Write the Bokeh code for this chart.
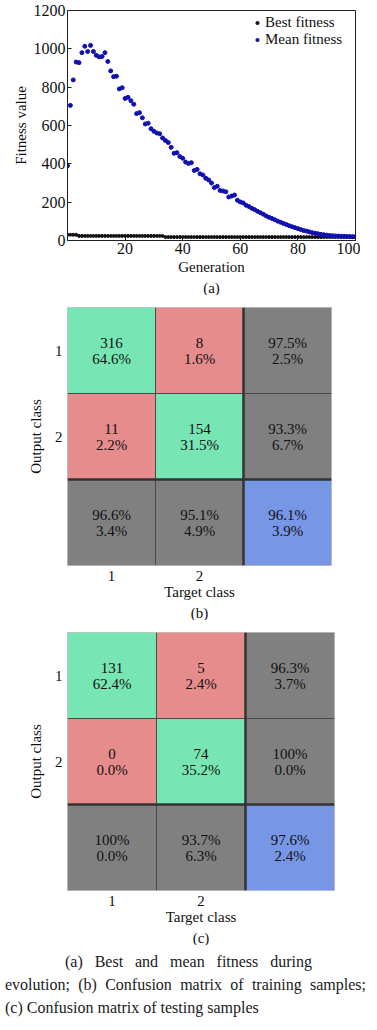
from bokeh.plotting import figure
from bokeh.models import Range1d, FixedTicker, Title, Div
from bokeh.layouts import column
from bokeh.embed import file_html
from bokeh.resources import INLINE
from bokeh.core.properties import value

FONT = "Liberation Serif"

# ---------------- data: (a) fitness ----------------
generation = list(range(101))
best_fitness = [30, 30, 30, 30,
                24, 24, 24, 24, 24, 24, 24, 24, 24, 24,
                24, 24, 24, 24, 24, 24, 24, 24, 24, 24,
                24, 24, 24, 24, 24, 24, 24, 24, 24, 24,
                18, 18, 18, 18, 18, 18, 18, 18, 18, 18,
                18, 18, 18, 18, 18, 18, 18, 18, 18, 18,
                18, 18, 18, 18, 18, 18, 18, 18, 18, 18,
                18, 18, 18, 18, 18, 18, 18, 18, 18, 18,
                18, 18, 18, 18, 18, 18, 18, 18, 18, 18,
                18, 18, 18, 18, 18, 18, 18, 18, 18, 18,
                18, 18, 18, 18, 18, 18, 18]
mean_fitness = [390, 705, 838, 931, 928, 980, 1013, 986, 1018, 986,
                966, 958, 960, 980, 934, 885, 855, 857, 791, 797,
                741, 747, 729, 711, 662, 667, 640, 608, 612, 583,
                570, 561, 557, 535, 522, 511, 486, 455, 458, 438,
                429, 409, 402, 406, 365, 371, 348, 342, 325, 316,
                300, 276, 283, 261, 258, 254, 227, 232, 237, 210,
                201, 196, 184, 177, 168, 161, 152, 145, 137, 128,
                121, 115, 108, 101, 95, 89, 83, 77, 72, 67,
                62, 57, 52, 49, 45, 41, 38, 35, 32, 30,
                28, 26, 25, 24, 23, 22, 22, 21, 21, 20, 20]
x_ticks = [20, 40, 60, 80, 100]
y_ticks = [0, 200, 400, 600, 800, 1000, 1200]

# ---------------- data: (b) training confusion ----------------
train_counts = [[316, 8], [11, 154]]
train_pcts = [["64.6%", "1.6%"], ["2.2%", "31.5%"]]
train_row_acc = [["97.5%", "2.5%"], ["93.3%", "6.7%"]]
train_col_acc = [["96.6%", "3.4%"], ["95.1%", "4.9%"]]
train_total = ["96.1%", "3.9%"]

# ---------------- data: (c) testing confusion ----------------
test_counts = [[131, 5], [0, 74]]
test_pcts = [["62.4%", "2.4%"], ["0.0%", "35.2%"]]
test_row_acc = [["96.3%", "3.7%"], ["100%", "0.0%"]]
test_col_acc = [["100%", "0.0%"], ["93.7%", "6.3%"]]
test_total = ["97.6%", "2.4%"]

class_ticks = [1, 2]

caption_lines = [
    "(a) Best and mean fitness during",
    "evolution; (b) Confusion matrix of training samples;",
    "(c) Confusion matrix of testing samples",
]

GREEN = "#78e6b4"
RED = "#e68c8c"
GRAY = "#808080"
BLUE = "#7896e6"


def style_axes(p, tick_size="15px"):
    for ax in p.axis:
        ax.major_label_text_font = FONT
        ax.major_label_text_font_size = tick_size
        ax.major_label_text_color = "#111111"
        ax.axis_label_text_font = FONT
        ax.axis_label_text_font_size = "15px"
        ax.axis_label_text_font_style = "normal"
        ax.axis_label_text_color = "#111111"
        ax.minor_tick_line_color = None


def below_title(p, tag):
    p.add_layout(Title(text=tag, align="center", text_font=FONT, text_font_size="15px",
                       text_font_style="normal", text_color="#111111", standoff=0,
                       offset=0), "below")


# ---------------- figure (a) ----------------
pa = figure(frame_width=288, frame_height=230, output_backend="svg", toolbar_location=None,
            x_range=Range1d(0, 100), y_range=Range1d(0, 1200),
            min_border_left=54, min_border_right=14, min_border_top=10,
            min_border_bottom=10)
pa.grid.visible = False
pa.outline_line_color = "#222222"
pa.scatter(generation, best_fitness, size=3, color="#111111", legend_label="Best fitness")
pa.scatter(generation, mean_fitness, size=4, color="#1010b0", legend_label="Mean fitness")
pa.xaxis.ticker = FixedTicker(ticks=x_ticks)
pa.yaxis.ticker = FixedTicker(ticks=y_ticks)
pa.xaxis.axis_label = "Generation"
pa.yaxis.axis_label = "Fitness value"
style_axes(pa, tick_size="16px")
for ax in pa.axis:
    ax.major_tick_in = 4
    ax.major_tick_out = 0
    ax.major_label_standoff = 2
    ax.axis_label_standoff = 2
    ax.axis_line_color = "#222222"
    ax.major_tick_line_color = "#222222"
below_title(pa, "(a)")
lg = pa.legend[0]
lg.location = "top_right"
lg.margin = 4
lg.padding = 3
lg.spacing = -3
lg.glyph_width = 8
lg.glyph_height = 15
lg.label_standoff = 4
lg.label_height = 15
lg.label_width = 86
lg.label_text_font = FONT
lg.label_text_font_size = "15px"
lg.label_text_color = "#111111"
lg.border_line_color = None
lg.background_fill_alpha = 0


# ---------------- confusion matrices ----------------
def matrix_fig(counts, pcts, row_acc, col_acc, total, tag, left, right, top, fw, fh):
    n = len(counts)
    xs, ys, colors, l1, l2 = [], [], [], [], []
    for r in range(n + 1):
        for c in range(n + 1):
            if r < n and c < n:
                col = GREEN if r == c else RED
                a, b = str(counts[r][c]), pcts[r][c]
            elif r < n:
                col, (a, b) = GRAY, row_acc[r]
            elif c < n:
                col, (a, b) = GRAY, col_acc[c]
            else:
                col, (a, b) = BLUE, total
            xs.append(c + 1)
            ys.append(r + 1)
            colors.append(col)
            l1.append(a)
            l2.append(b)
    p = figure(frame_width=fw, frame_height=fh, output_backend="svg", toolbar_location=None,
               x_range=Range1d(0.5, n + 1.5), y_range=Range1d(n + 1.5, 0.5),
               min_border_left=left, min_border_right=right, min_border_top=top,
               min_border_bottom=4)
    p.grid.visible = False
    p.outline_line_color = "#c4c4c4"
    p.rect(xs, ys, width=1, height=1, fill_color=colors, line_color=None)
    for k in range(1, n + 1):
        b = k + 0.5
        lw = 2.5 if k == n else 1
        lc = "#333333" if k == n else "#4a4a4a"
        p.segment(x0=[b], y0=[0.5], x1=[b], y1=[n + 1.5], line_color=lc, line_width=lw)
        p.segment(x0=[0.5], y0=[b], x1=[n + 1.5], y1=[b], line_color=lc, line_width=lw)
    common = dict(text_align="center", text_baseline="middle", text_font=value(FONT),
                  text_font_size="15px", text_color="#111111")
    p.text(xs, ys, text=l1, y_offset=-8, **common)
    p.text(xs, ys, text=l2, y_offset=8, **common)
    p.xaxis.ticker = FixedTicker(ticks=class_ticks)
    p.yaxis.ticker = FixedTicker(ticks=class_ticks)
    p.xaxis.axis_label = "Target class"
    p.yaxis.axis_label = "Output class"
    style_axes(p)
    for ax in p.axis:
        ax.major_tick_in = 0
        ax.major_tick_out = 0
        ax.axis_line_color = None
        ax.major_label_standoff = 5
        ax.axis_label_standoff = 0
    p.yaxis.major_label_standoff = 5
    p.yaxis.axis_label_standoff = 8
    below_title(p, tag)
    return p


pb = matrix_fig(train_counts, train_pcts, train_row_acc, train_col_acc, train_total, "(b)",
                left=65, right=32, top=12, fw=264, fh=258)
pc = matrix_fig(test_counts, test_pcts, test_row_acc, test_col_acc, test_total, "(c)",
                left=67, right=27, top=12, fw=267, fh=258)


# ---------------- caption ----------------
def spread(line, extra):
    words = "".join("<span>%s</span>" % w for w in line.split(" "))
    return '<div style="display:flex;justify-content:space-between;%s">%s</div>' % (extra, words)


cap_html = (
    '<div style="font-family:\'Liberation Serif\',serif;font-size:16px;line-height:23px;'
    'color:#1a1a1a;width:361px;">'
    + spread(caption_lines[0], "margin-left:60px;width:247px;")
    + spread(caption_lines[1], "width:361px;")
    + '<div>%s</div>' % caption_lines[2]
    + '</div>'
)
cap = Div(text=cap_html, width=361, height=69)

layout = column(pa, pb, pc, cap)
open("out.html", "w").write(file_html(layout, INLINE))
